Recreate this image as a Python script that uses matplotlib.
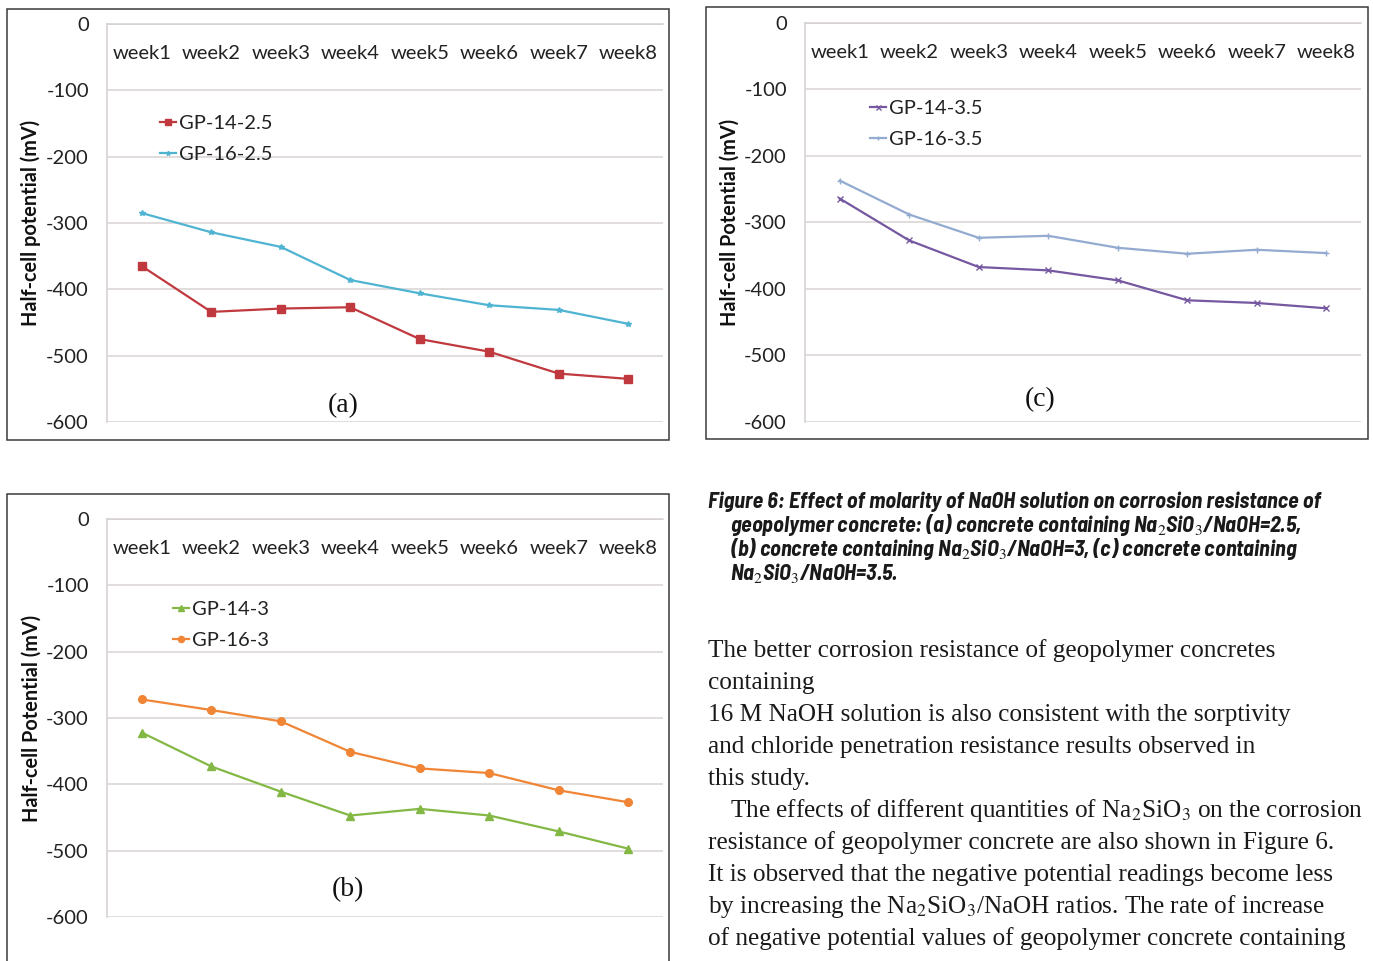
import matplotlib
matplotlib.use("Agg")
import matplotlib.pyplot as plt
from matplotlib import font_manager as fm
from matplotlib.patches import Rectangle
import numpy as np

# data (mV)
weeks = ["week1", "week2", "week3", "week4", "week5", "week6", "week7", "week8"]
gp14_25 = [-365, -434, -429, -427, -475, -494, -527, -535]
gp16_25 = [-285, -314, -336, -386, -406, -424, -431, -452]
gp14_3 = [-322, -373, -411, -447, -437, -447, -471, -497]
gp16_3 = [-272, -288, -305, -351, -376, -383, -409, -427]
gp14_35 = [-264, -327, -367, -372, -387, -417, -421, -429]
gp16_35 = [-237, -288, -323, -320, -338, -347, -341, -346]
yticks = [0, -100, -200, -300, -400, -500, -600]

caption = [
    "Figure 6: Effect of molarity of NaOH solution on corrosion resistance of",
    "geopolymer concrete: (a) concrete containing Na$_2$SiO$_3$/NaOH=2.5,",
    "(b) concrete containing Na$_2$SiO$_3$/NaOH=3, (c) concrete containing",
    "Na$_2$SiO$_3$/NaOH=3.5.",
]
body = [
    "The better corrosion resistance of geopolymer concretes",
    "containing",
    "16 M NaOH solution is also consistent with the sorptivity",
    "and chloride penetration resistance results observed in",
    "this study.",
    "The effects of different quantities of Na$_2$SiO$_3$ on the corrosion",
    "resistance of geopolymer concrete are also shown in Figure 6.",
    "It is observed that the negative potential readings become less",
    "by increasing the Na$_2$SiO$_3$/NaOH ratios. The rate of increase",
    "of negative potential values of geopolymer concrete containing",
]

W, H = 1373, 961
plt.rcParams["font.family"] = ["Lato", "DejaVu Sans"]
plt.rcParams["mathtext.fontset"] = "stix"
plt.rcParams["axes.unicode_minus"] = False

fig = plt.figure(figsize=(W / 100, H / 100), dpi=100)
fig.patch.set_facecolor("white")


def box(x0, y0, x1, y1):
    return [x0 / W, 1 - y1 / H, (x1 - x0) / W, (y1 - y0) / H]


def frame(x0, y0, x1, y1):
    fig.add_artist(Rectangle((x0 / W, 1 - y1 / H), (x1 - x0) / W, (y1 - y0) / H,
                             transform=fig.transFigure, fill=False,
                             lw=1.1, ec="#3a3a3a"))


def panel(rect, series, leg_xy, tag, tag_xy, ylabel):
    ax = fig.add_axes(box(*rect))
    x = np.arange(len(weeks))
    for vals, lab, col, mk, ms in series:
        ax.plot(x, vals, color=col, lw=1.6, marker=mk, ms=ms,
                mec=col, mfc=col, mew=1.0, label=lab)
    ax.set_xlim(-0.5, len(weeks) - 0.5)
    ax.set_ylim(-600, 0)
    ax.set_yticks(yticks)
    ax.set_xticks(x, weeks)
    ax.grid(axis="y", color="#d9d3d3", lw=1.1)
    ax.set_axisbelow(True)
    for s in ["right", "bottom"]:
        ax.spines[s].set_visible(False)
    for s in ["left", "top"]:
        ax.spines[s].set_color("#d6d0d0")
        ax.spines[s].set_linewidth(1.1)
    ax.tick_params(axis="y", length=0, pad=13, labelsize=14.5, labelcolor="#222222")
    ax.tick_params(axis="x", length=0, labeltop=True, labelbottom=False,
                   top=False, bottom=False, pad=-15, labelsize=14.5,
                   labelcolor="#222222")
    for t in ax.xaxis.get_major_ticks():
        t.label2.set_va("top")
    ax.set_ylabel(ylabel, fontsize=14.3, fontweight="bold", color="#111111")
    ax.yaxis.set_label_coords(-0.118, 0.5)
    leg = ax.legend(loc="upper left", bbox_to_anchor=leg_xy, frameon=False,
                    fontsize=14.5, handlelength=0.8, handletextpad=0.15,
                    labelspacing=0.7, borderpad=0, borderaxespad=0, markerscale=0.8)
    for t in leg.get_texts():
        t.set_color("#222222")
    ax.text(tag_xy[0], tag_xy[1], tag, transform=ax.transAxes, ha="center",
            va="center", fontsize=20, family="Liberation Serif", color="#111111")
    return ax


frame(7, 9, 669, 440)
frame(706, 7, 1368, 439)
frame(7, 494, 669, 985)

panel((107, 24, 663, 422),
      [(gp14_25, "GP-14-2.5", "#c0393f", "s", 5.5),
       (gp16_25, "GP-16-2.5", "#4fb4d2", "*", 4)],
      (0.095, 0.772), "(a)", (0.424, 0.04), "Half-cell potential (mV)")
panel((107, 519, 663, 917),
      [(gp14_3, "GP-14-3", "#84b845", "^", 5.5),
       (gp16_3, "GP-16-3", "#ef8535", "o", 5.5)],
      (0.119, 0.795), "(b)", (0.433, 0.068), "Half-cell Potential (mV)")
panel((805, 23, 1361, 422),
      [(gp14_35, "GP-14-3.5", "#7558a0", "x", 4.5),
       (gp16_35, "GP-16-3.5", "#93abd0", "+", 4)],
      (0.117, 0.808), "(c)", (0.423, 0.057), "Half-cell Potential (mV)")


# caption: a narrow bold italic face if one is installed, sized to the reference width
def caption_font():
    picks = []
    for f in fm.fontManager.ttflist:
        key = (f.name + " " + str(f.stretch) + " " + f.fname).lower()
        w = f.weight if isinstance(f.weight, int) else 700 * (f.weight == "bold")
        if f.style in ("italic", "oblique") and 600 <= w <= 800 and \
                ("narrow" in key or "condensed" in key) and "extra" not in key \
                and "ultra" not in key:
            picks.append(f)
    if picks:
        picks.sort(key=lambda f: ("narrow" not in f.name.lower(),
                                  "semi" not in (str(f.stretch) + f.fname).lower(),
                                  abs((f.weight if isinstance(f.weight, int) else 700) - 700),
                                  f.name))
        return fm.FontProperties(fname=picks[0].fname)
    return fm.FontProperties(family="Liberation Sans", weight="bold", style="italic")


renderer = fig.canvas.get_renderer()
cap_prop = caption_font()
cap_prop.set_size(14)
cap_texts = []
for i, line in enumerate(caption):
    cap_texts.append(fig.text((708 if i == 0 else 730) / W, 1 - (508 + 24 * i) / H,
                              line, va="baseline", ha="left",
                              fontproperties=cap_prop.copy(), color="#1a1a1a"))
cap_size = min(14 * 614 / cap_texts[0].get_window_extent(renderer).width, 16.5)
for t in cap_texts:
    t.set_fontsize(cap_size)

# body text
body_texts = []
for i, line in enumerate(body):
    body_texts.append(fig.text((730 if i == 5 else 708) / W, 1 - (657 + 32 * i) / H,
                               line, va="baseline", ha="left",
                               family="Liberation Serif", fontsize=18,
                               color="#1a1a1a"))
scale = 579 / body_texts[0].get_window_extent(renderer).width
longest = 633 / body_texts[5].get_window_extent(renderer).width
for t in body_texts:
    t.set_fontsize(18 * min(scale, longest))

fig.savefig("out.png", dpi=100)
